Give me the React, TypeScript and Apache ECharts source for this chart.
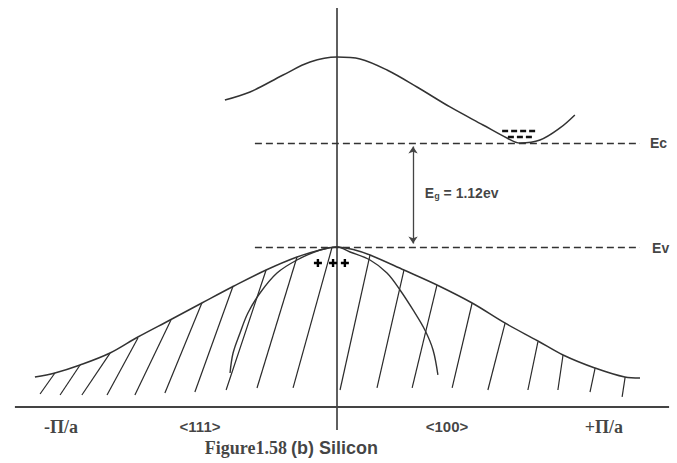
import React, { useEffect, useRef } from "react";
import * as echarts from "echarts";

// ---- data (k in units of pi/a, E in eV, Ev = 0) ----
const CB_K = [-0.370, -0.287, -0.178, -0.089, 0, 0.076, 0.165, 0.264, 0.373, 0.482, 0.561, 0.604, 0.670, 0.736, 0.785];
const CB_E = [1.583, 1.669, 1.852, 1.992, 2.046, 2.025, 1.906, 1.723, 1.508, 1.314, 1.174, 1.12, 1.152, 1.282, 1.422];

const HH_K = [-0.997, -0.931, -0.848, -0.749, -0.657, -0.551, -0.446, -0.340, -0.234, -0.132, -0.056, 0, 0.059, 0.109, 0.221, 0.330, 0.446, 0.554, 0.663, 0.746, 0.851, 0.950, 1.0];
const HH_E = [-1.400, -1.357, -1.271, -1.142, -0.969, -0.786, -0.603, -0.420, -0.248, -0.108, -0.032, 0, -0.032, -0.086, -0.248, -0.409, -0.603, -0.818, -1.012, -1.163, -1.303, -1.400, -1.411];

const LH_K = [-0.353, -0.343, -0.320, -0.294, -0.254, -0.198, -0.132, -0.056, 0, 0.043, 0.109, 0.165, 0.208, 0.251, 0.290, 0.317, 0.333];
const LH_E = [-1.357, -1.142, -0.926, -0.711, -0.495, -0.280, -0.140, -0.032, 0, -0.054, -0.140, -0.280, -0.463, -0.678, -0.894, -1.109, -1.378];

const HATCH_TOP_K = [-0.931, -0.848, -0.749, -0.657, -0.548, -0.446, -0.343, -0.234, -0.132, -0.017, 0.109, 0.221, 0.330, 0.446, 0.555, 0.663, 0.746, 0.852, 0.951];
const HATCH_TOP_E = [-1.357, -1.271, -1.142, -0.980, -0.786, -0.603, -0.420, -0.248, -0.108, -0.011, -0.086, -0.248, -0.409, -0.603, -0.818, -1.023, -1.163, -1.303, -1.400];
const HATCH_BOT_K = [-0.980, -0.914, -0.842, -0.759, -0.667, -0.568, -0.469, -0.366, -0.264, -0.145, 0.010, 0.132, 0.248, 0.380, 0.498, 0.630, 0.729, 0.835, 0.941];
const HATCH_BOT_E = [-1.583, -1.594, -1.594, -1.594, -1.594, -1.572, -1.562, -1.540, -1.518, -1.518, -1.540, -1.518, -1.518, -1.518, -1.540, -1.540, -1.540, -1.562, -1.615];

const EC = 1.12;
const EV = 0;
const LEVEL_K = [-0.271, 1.0];
const GAP_K = 0.251;
const GAP_LABEL = ["E", "g", " = 1.12ev"];
const GAP_LABEL_POS = [0.290, 0.592];

const ELECTRON_ROWS_K = [[0.545, 0.654], [0.564, 0.647]];
const ELECTRON_ROWS_E = [1.249, 1.185];

const HOLE_K = [-0.063, -0.013, 0.026];
const HOLE_E = -0.172;

const AXIS_V_E = [2.574, -1.971];
const AXIS_H_K = [-1.063, 1.096];
const AXIS_H_E = -1.723;

const LEVEL_LABELS = ["Ec", "Ev"];
const LEVEL_LABEL_K = [1.033, 1.040];
const LEVEL_LABEL_E = [1.12, -0.01];

const K_LABELS = ["-\u03A0/a", "<111>", "<100>", "+\u03A0/a"];
const K_LABEL_K = [-0.911, -0.452, 0.363, 0.881];
const K_LABEL_E = -1.938;

const CAPTION = ["Figure1.58", "(b) Silicon"];
const CAPTION_K = [-0.165, -0.152];
const CAPTION_E = -2.165;

// ---- layout (pixel mapping) ----
const X0 = 337;
const SX = 303;
const Y0 = 247;
const SY = 104 / 1.12;
const K_MIN = -1.1, K_MAX = 1.1, E_MIN = -2.3, E_MAX = 2.6;

const zip = (a: number[], b: number[]) => a.map((v, i) => [v, b[i]]);

const SANS = "'Liberation Sans', Arial, sans-serif";
const SERIF = "'Liberation Serif', 'Times New Roman', serif";

export default function App() {
  const ref = useRef<HTMLDivElement>(null);
  useEffect(() => {
    if (!ref.current) return;
    const chart = echarts.init(ref.current, undefined, { renderer: "svg" });
    const inset = 3.5 / SY;

    const hatches = HATCH_TOP_K.map((k, i) => ({
      coords: [[k, HATCH_TOP_E[i]], [HATCH_BOT_K[i], HATCH_BOT_E[i]]],
    }));

    const labelData: any[] = [];
    LEVEL_LABELS.forEach((t, i) =>
      labelData.push({
        value: [LEVEL_LABEL_K[i], LEVEL_LABEL_E[i]],
        label: { show: true, position: "right", distance: 0, formatter: t, fontFamily: SANS, fontWeight: "bold", fontSize: 14, color: "#111" },
      })
    );
    K_LABELS.forEach((t, i) => {
      const serif = t.indexOf("\u03A0") >= 0;
      labelData.push({
        value: [K_LABEL_K[i], K_LABEL_E],
        label: {
          show: true, position: "inside", formatter: t,
          fontFamily: serif ? SERIF : SANS, fontWeight: "bold",
          fontSize: serif ? 18 : 15, color: "#111",
        },
      });
    });
    labelData.push({
      value: [CAPTION_K[0], CAPTION_E],
      label: { show: true, position: "left", distance: 0, formatter: CAPTION[0], fontFamily: SERIF, fontWeight: "bold", fontSize: 18, color: "#111" },
    });
    labelData.push({
      value: [CAPTION_K[1], CAPTION_E],
      label: { show: true, position: "right", distance: 0, formatter: CAPTION[1], fontFamily: SANS, fontWeight: "bold", fontSize: 18, color: "#111" },
    });
    labelData.push({
      value: GAP_LABEL_POS,
      label: {
        show: true, position: "right", distance: 0,
        formatter: `{a|${GAP_LABEL[0]}}{s|${GAP_LABEL[1]}}{a|${GAP_LABEL[2]}}`,
        rich: {
          a: { fontFamily: SANS, fontWeight: "bold", fontSize: 14, lineHeight: 16, color: "#111", verticalAlign: "bottom" },
          s: { fontFamily: SANS, fontWeight: "bold", fontSize: 9, lineHeight: 9, color: "#111", verticalAlign: "bottom" },
        },
      },
    });

    chart.setOption({
      animation: false,
      backgroundColor: "#fff",
      grid: {
        left: X0 + K_MIN * SX,
        width: (K_MAX - K_MIN) * SX,
        top: Y0 - E_MAX * SY,
        height: (E_MAX - E_MIN) * SY,
      },
      xAxis: { type: "value", min: K_MIN, max: K_MAX, show: false },
      yAxis: { type: "value", min: E_MIN, max: E_MAX, show: false },
      series: [
        {
          type: "lines", coordinateSystem: "cartesian2d", silent: true, symbol: "none",
          lineStyle: { opacity: 1 },
          data: [
            { coords: [[0, AXIS_V_E[0]], [0, AXIS_V_E[1]]], lineStyle: { color: "#2a2a2a", width: 1.5, opacity: 1 } },
            { coords: [[AXIS_H_K[0], AXIS_H_E], [AXIS_H_K[1], AXIS_H_E]], lineStyle: { color: "#444", width: 2, opacity: 1 } },
          ],
        },
        {
          type: "lines", coordinateSystem: "cartesian2d", silent: true, symbol: "none",
          lineStyle: { color: "#333", width: 1.3, type: [7, 4], opacity: 1 },
          data: [
            { coords: [[LEVEL_K[0], EC], [LEVEL_K[1], EC]] },
            { coords: [[LEVEL_K[0], EV], [LEVEL_K[1], EV]] },
          ],
        },
        {
          type: "lines", coordinateSystem: "cartesian2d", silent: true,
          symbol: ["arrow", "arrow"], symbolSize: 7,
          lineStyle: { color: "#444", width: 1.3, opacity: 1 },
          data: [{ coords: [[GAP_K, EV + inset], [GAP_K, EC - inset]] }],
        },
        {
          type: "lines", coordinateSystem: "cartesian2d", silent: true, symbol: "none",
          lineStyle: { color: "#111", width: 2.3, type: [6, 3], opacity: 1 },
          data: ELECTRON_ROWS_K.map((r, i) => ({ coords: [[r[0], ELECTRON_ROWS_E[i]], [r[1], ELECTRON_ROWS_E[i]]] })),
        },
        {
          type: "lines", coordinateSystem: "cartesian2d", silent: true, symbol: "none",
          lineStyle: { color: "#2a2a2a", width: 1.2, opacity: 1 },
          data: hatches,
        },
        {
          type: "line", data: zip(CB_K, CB_E), smooth: 0.35, symbol: "none", silent: true,
          lineStyle: { color: "#333", width: 1.5 },
        },
        {
          type: "line", data: zip(HH_K, HH_E), smooth: 0.35, symbol: "none", silent: true,
          lineStyle: { color: "#333", width: 1.5 },
        },
        {
          type: "line", data: zip(LH_K, LH_E), smooth: 0.35, symbol: "none", silent: true,
          lineStyle: { color: "#333", width: 1.4 },
        },
        {
          type: "scatter", silent: true,
          symbol: "path://M3.5 0h3v3.5h3.5v3h-3.5v3.5h-3v-3.5h-3.5v-3h3.5z", symbolSize: 8,
          itemStyle: { color: "#000", opacity: 1 },
          data: HOLE_K.map((k) => [k, HOLE_E]),
        },
        {
          type: "scatter", silent: true, symbolSize: 0, clip: false,
          data: labelData,
        },
      ],
    });
    return () => chart.dispose();
  }, []);
  return (
    <div
      ref={ref}
      style={{ position: "fixed", left: 0, top: 0, width: 677, height: 463, background: "#fff" }}
    />
  );
}
